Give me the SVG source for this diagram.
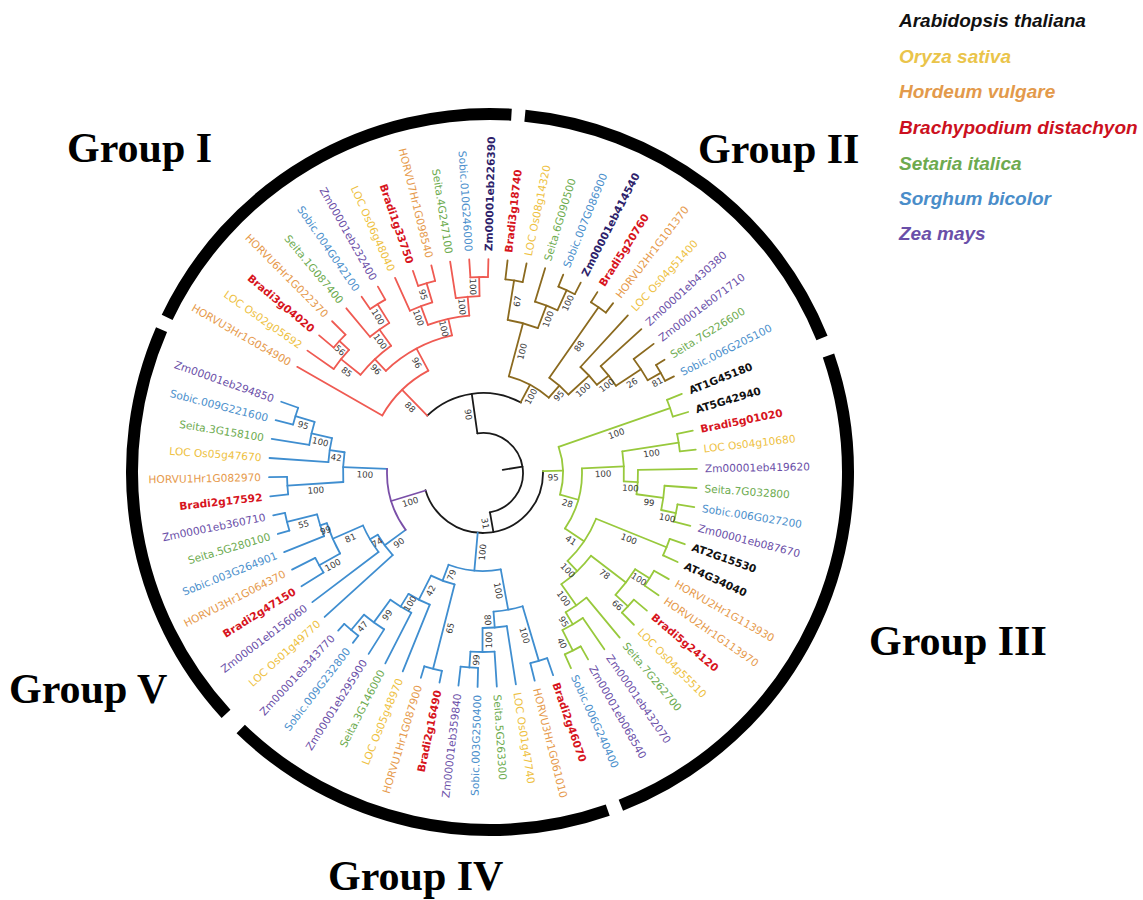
<svg xmlns="http://www.w3.org/2000/svg" width="1143" height="900" viewBox="0 0 1143 900">
<style>
.t path,.t circle{fill:none;stroke-width:1.8;stroke-linecap:round}
.k{stroke:#1a1a1a}.r{stroke:#EF5A52}.b{stroke:#8B6A1F}.g{stroke:#98C93C}.u{stroke:#3F8ED0}.p{stroke:#7A4FA8}
.bs text{font-family:"DejaVu Sans",sans-serif;font-size:8.7px;fill:#3a3a3a;text-anchor:middle}
.lf text{font-family:"DejaVu Sans",sans-serif;font-size:10.6px}
.e{text-anchor:end}
.at{fill:#111;font-weight:bold;font-size:9.6px}
.br{fill:#D7141D;font-weight:bold;font-size:9.6px}
.os{fill:#EEC13F}.hv{fill:#E69A4C}.si{fill:#6DAB4F}.sb{fill:#4B8FCC}.zm{fill:#6B4FA8}
.zd{fill:#2E1F6B;font-weight:bold;font-size:9.6px}
.ring circle{fill:none;stroke:#000;stroke-width:12}
.grp{font-family:"Liberation Serif","Times New Roman",serif;font-weight:bold;font-size:42px;fill:#000}
.lg{font-family:"Liberation Sans",Arial,sans-serif;font-weight:bold;font-style:italic;font-size:19px}
</style>
<rect width="1143" height="900" fill="#fff"/>
<g id="ring" class="ring" transform="translate(490,472)">
<circle r="358" stroke-dasharray="423.63 9999" transform="rotate(205.6)"/>
<circle r="358" stroke-dasharray="389.89 9999" transform="rotate(275.6)"/>
<circle r="358" stroke-dasharray="546.72 9999" transform="rotate(341)"/>
<circle r="358" stroke-dasharray="395.52 9999" transform="rotate(70.8)"/>
<circle r="358" stroke-dasharray="411.76 9999" transform="rotate(137.5)"/>
</g>
<g id="connectors" class="t" transform="translate(483,473)">
<g class="k">
<path d="M20 0H40" transform="rotate(-9.03)"/>
<circle r="40" stroke-dasharray="124.31 9999" transform="rotate(-98.06)"/>
<path d="M40 0H80" transform="rotate(-98.06)"/>
<path d="M40 0H60" transform="rotate(80)"/>
<circle r="80" stroke-dasharray="100.87 9999" transform="rotate(225.82)"/>
<circle r="60" stroke-dasharray="172.56 9999" transform="rotate(-1.73)"/>
</g>
<g class="g">
<path d="M60 0H80" transform="rotate(-1.73)"/>
<circle r="80" stroke-dasharray="48.60 9999" transform="rotate(-19.13)"/>
<path d="M80 0H198" transform="rotate(-19.13)"/>
<circle r="198" stroke-dasharray="17.76 9999" transform="rotate(-21.70)"/>
<path d="M198 0H214" transform="rotate(-21.70)"/>
<path d="M198 0H214" transform="rotate(-16.56)"/>
<path d="M80 0H99" transform="rotate(15.68)"/>
<circle r="99" stroke-dasharray="63.60 9999" transform="rotate(-2.73)"/>
<path d="M99 0H141" transform="rotate(-2.73)"/>
<circle r="141" stroke-dasharray="30.07 9999" transform="rotate(-8.84)"/>
<path d="M141 0H198" transform="rotate(-8.84)"/>
<circle r="198" stroke-dasharray="17.76 9999" transform="rotate(-11.41)"/>
<path d="M198 0H214" transform="rotate(-11.41)"/>
<path d="M198 0H214" transform="rotate(-6.27)"/>
<path d="M141 0H155" transform="rotate(3.38)"/>
<circle r="155" stroke-dasharray="24.37 9999" transform="rotate(-1.13)"/>
<path d="M155 0H214" transform="rotate(-1.13)"/>
<path d="M155 0H182" transform="rotate(7.88)"/>
<circle r="182" stroke-dasharray="24.49 9999" transform="rotate(4.02)"/>
<path d="M182 0H214" transform="rotate(4.02)"/>
<path d="M182 0H197" transform="rotate(11.73)"/>
<circle r="197" stroke-dasharray="17.67 9999" transform="rotate(9.16)"/>
<path d="M197 0H214" transform="rotate(9.16)"/>
<path d="M197 0H214" transform="rotate(14.30)"/>
<path d="M99 0H122" transform="rotate(34.08)"/>
<circle r="122" stroke-dasharray="51.34 9999" transform="rotate(22.02)"/>
<path d="M122 0H198" transform="rotate(22.02)"/>
<circle r="198" stroke-dasharray="17.80 9999" transform="rotate(19.44)"/>
<path d="M198 0H214" transform="rotate(19.44)"/>
<path d="M198 0H214" transform="rotate(24.59)"/>
<path d="M122 0H136" transform="rotate(46.13)"/>
<circle r="136" stroke-dasharray="41.21 9999" transform="rotate(37.45)"/>
<path d="M136 0H180" transform="rotate(37.45)"/>
<circle r="180" stroke-dasharray="32.33 9999" transform="rotate(32.30)"/>
<path d="M180 0H197" transform="rotate(32.30)"/>
<circle r="197" stroke-dasharray="17.67 9999" transform="rotate(29.73)"/>
<path d="M197 0H214" transform="rotate(29.73)"/>
<path d="M197 0H214" transform="rotate(34.87)"/>
<path d="M180 0H197" transform="rotate(42.59)"/>
<circle r="197" stroke-dasharray="17.67 9999" transform="rotate(40.02)"/>
<path d="M197 0H214" transform="rotate(40.02)"/>
<path d="M197 0H214" transform="rotate(45.16)"/>
<path d="M136 0H162" transform="rotate(54.81)"/>
<circle r="162" stroke-dasharray="25.48 9999" transform="rotate(50.30)"/>
<path d="M162 0H214" transform="rotate(50.30)"/>
<path d="M162 0H176" transform="rotate(59.31)"/>
<circle r="176" stroke-dasharray="23.68 9999" transform="rotate(55.45)"/>
<path d="M176 0H214" transform="rotate(55.45)"/>
<path d="M176 0H199" transform="rotate(63.16)"/>
<circle r="199" stroke-dasharray="17.85 9999" transform="rotate(60.59)"/>
<path d="M199 0H214" transform="rotate(60.59)"/>
<path d="M199 0H214" transform="rotate(65.73)"/>
</g>
<g class="u">
<path d="M60 0H98" transform="rotate(95.07)"/>
<circle r="98" stroke-dasharray="53.06 9999" transform="rotate(79.56)"/>
<path d="M98 0H139" transform="rotate(79.56)"/>
<circle r="139" stroke-dasharray="29.62 9999" transform="rotate(73.45)"/>
<path d="M139 0H196" transform="rotate(73.45)"/>
<circle r="196" stroke-dasharray="17.62 9999" transform="rotate(70.87)"/>
<path d="M196 0H214" transform="rotate(70.87)"/>
<path d="M196 0H214" transform="rotate(76.02)"/>
<path d="M139 0H155" transform="rotate(85.66)"/>
<circle r="155" stroke-dasharray="24.35 9999" transform="rotate(81.16)"/>
<path d="M155 0H214" transform="rotate(81.16)"/>
<path d="M155 0H179" transform="rotate(90.16)"/>
<circle r="179" stroke-dasharray="24.12 9999" transform="rotate(86.30)"/>
<path d="M179 0H214" transform="rotate(86.30)"/>
<path d="M179 0H195" transform="rotate(94.02)"/>
<circle r="195" stroke-dasharray="17.49 9999" transform="rotate(91.45)"/>
<path d="M195 0H214" transform="rotate(91.45)"/>
<path d="M195 0H214" transform="rotate(96.59)"/>
<path d="M98 0H115" transform="rotate(110.58)"/>
<circle r="115" stroke-dasharray="25.15 9999" transform="rotate(104.31)"/>
<path d="M115 0H202" transform="rotate(104.31)"/>
<circle r="202" stroke-dasharray="18.16 9999" transform="rotate(101.73)"/>
<path d="M202 0H214" transform="rotate(101.73)"/>
<path d="M202 0H214" transform="rotate(106.88)"/>
<path d="M115 0H142" transform="rotate(116.84)"/>
<circle r="142" stroke-dasharray="23.89 9999" transform="rotate(112.02)"/>
<path d="M142 0H214" transform="rotate(112.02)"/>
<path d="M142 0H157" transform="rotate(121.66)"/>
<circle r="157" stroke-dasharray="24.66 9999" transform="rotate(117.16)"/>
<path d="M157 0H214" transform="rotate(117.16)"/>
<path d="M157 0H185" transform="rotate(126.16)"/>
<circle r="185" stroke-dasharray="24.93 9999" transform="rotate(122.30)"/>
<path d="M185 0H214" transform="rotate(122.30)"/>
<path d="M185 0H205" transform="rotate(130.02)"/>
<circle r="205" stroke-dasharray="18.39 9999" transform="rotate(127.45)"/>
<path d="M205 0H214" transform="rotate(127.45)"/>
<path d="M205 0H214" transform="rotate(132.59)"/>
<path d="M96 0H122" transform="rotate(143.68)"/>
<circle r="122" stroke-dasharray="25.34 9999" transform="rotate(137.73)"/>
<path d="M122 0H214" transform="rotate(137.73)"/>
<path d="M122 0H131" transform="rotate(149.63)"/>
<circle r="131" stroke-dasharray="30.87 9999" transform="rotate(142.88)"/>
<path d="M131 0H214" transform="rotate(142.88)"/>
<path d="M131 0H164" transform="rotate(156.38)"/>
<circle r="164" stroke-dasharray="33.15 9999" transform="rotate(150.59)"/>
<path d="M164 0H188" transform="rotate(150.59)"/>
<circle r="188" stroke-dasharray="16.87 9999" transform="rotate(148.02)"/>
<path d="M188 0H214" transform="rotate(148.02)"/>
<path d="M188 0H214" transform="rotate(153.16)"/>
<path d="M164 0H171" transform="rotate(162.17)"/>
<circle r="171" stroke-dasharray="23.01 9999" transform="rotate(158.31)"/>
<path d="M171 0H214" transform="rotate(158.31)"/>
<path d="M171 0H202" transform="rotate(166.02)"/>
<circle r="202" stroke-dasharray="18.12 9999" transform="rotate(163.45)"/>
<path d="M202 0H214" transform="rotate(163.45)"/>
<path d="M202 0H214" transform="rotate(168.59)"/>
<path d="M96 0H140" transform="rotate(182.42)"/>
<circle r="140" stroke-dasharray="29.83 9999" transform="rotate(176.31)"/>
<path d="M140 0H196" transform="rotate(176.31)"/>
<circle r="196" stroke-dasharray="17.62 9999" transform="rotate(173.73)"/>
<path d="M196 0H214" transform="rotate(173.73)"/>
<path d="M196 0H214" transform="rotate(178.88)"/>
<path d="M140 0H155" transform="rotate(188.52)"/>
<circle r="155" stroke-dasharray="24.35 9999" transform="rotate(184.02)"/>
<path d="M155 0H214" transform="rotate(184.02)"/>
<path d="M155 0H176" transform="rotate(193.02)"/>
<circle r="176" stroke-dasharray="23.71 9999" transform="rotate(189.16)"/>
<path d="M176 0H214" transform="rotate(189.16)"/>
<path d="M176 0H196" transform="rotate(196.88)"/>
<circle r="196" stroke-dasharray="17.58 9999" transform="rotate(194.31)"/>
<path d="M196 0H214" transform="rotate(194.31)"/>
<path d="M196 0H214" transform="rotate(199.45)"/>
</g>
<g class="p">
<path d="M60 0H96" transform="rotate(163.05)"/>
<circle r="96" stroke-dasharray="64.91 9999" transform="rotate(143.68)"/>
</g>
<g class="r">
<path d="M80 0H116" transform="rotate(225.82)"/>
<circle r="116" stroke-dasharray="65.09 9999" transform="rotate(209.74)"/>
<path d="M116 0H214" transform="rotate(209.74)"/>
<path d="M116 0H141" transform="rotate(241.89)"/>
<circle r="141" stroke-dasharray="75.94 9999" transform="rotate(226.46)"/>
<path d="M141 0H157" transform="rotate(226.46)"/>
<circle r="157" stroke-dasharray="42.28 9999" transform="rotate(218.74)"/>
<path d="M157 0H182" transform="rotate(218.74)"/>
<circle r="182" stroke-dasharray="24.49 9999" transform="rotate(214.88)"/>
<path d="M182 0H214" transform="rotate(214.88)"/>
<path d="M182 0H195" transform="rotate(222.59)"/>
<circle r="195" stroke-dasharray="17.49 9999" transform="rotate(220.02)"/>
<path d="M195 0H214" transform="rotate(220.02)"/>
<path d="M195 0H214" transform="rotate(225.16)"/>
<path d="M157 0H177" transform="rotate(234.17)"/>
<circle r="177" stroke-dasharray="23.82 9999" transform="rotate(230.31)"/>
<path d="M177 0H214" transform="rotate(230.31)"/>
<path d="M177 0H199" transform="rotate(238.02)"/>
<circle r="199" stroke-dasharray="17.85 9999" transform="rotate(235.45)"/>
<path d="M199 0H214" transform="rotate(235.45)"/>
<path d="M199 0H214" transform="rotate(240.59)"/>
<path d="M141 0H158" transform="rotate(257.32)"/>
<circle r="158" stroke-dasharray="42.55 9999" transform="rotate(249.60)"/>
<path d="M158 0H178" transform="rotate(249.60)"/>
<circle r="178" stroke-dasharray="23.95 9999" transform="rotate(245.74)"/>
<path d="M178 0H214" transform="rotate(245.74)"/>
<path d="M178 0H198" transform="rotate(253.45)"/>
<circle r="198" stroke-dasharray="17.76 9999" transform="rotate(250.88)"/>
<path d="M198 0H214" transform="rotate(250.88)"/>
<path d="M198 0H214" transform="rotate(256.02)"/>
<path d="M158 0H177" transform="rotate(265.03)"/>
<circle r="177" stroke-dasharray="23.82 9999" transform="rotate(261.17)"/>
<path d="M177 0H214" transform="rotate(261.17)"/>
<path d="M177 0H196" transform="rotate(268.88)"/>
<circle r="196" stroke-dasharray="17.58 9999" transform="rotate(266.31)"/>
<path d="M196 0H214" transform="rotate(266.31)"/>
<path d="M196 0H214" transform="rotate(271.45)"/>
</g>
<g class="b">
<path d="M80 0H100" transform="rotate(298.06)"/>
<circle r="100" stroke-dasharray="45.71 9999" transform="rotate(284.96)"/>
<path d="M100 0H155" transform="rotate(284.96)"/>
<circle r="155" stroke-dasharray="31.30 9999" transform="rotate(279.17)"/>
<path d="M155 0H195" transform="rotate(279.17)"/>
<circle r="195" stroke-dasharray="17.53 9999" transform="rotate(276.59)"/>
<path d="M195 0H214" transform="rotate(276.59)"/>
<path d="M195 0H214" transform="rotate(281.74)"/>
<path d="M155 0H179" transform="rotate(290.74)"/>
<circle r="179" stroke-dasharray="24.12 9999" transform="rotate(286.88)"/>
<path d="M179 0H214" transform="rotate(286.88)"/>
<path d="M179 0H201" transform="rotate(294.60)"/>
<circle r="201" stroke-dasharray="18.07 9999" transform="rotate(292.02)"/>
<path d="M201 0H214" transform="rotate(292.02)"/>
<path d="M201 0H214" transform="rotate(297.17)"/>
<path d="M100 0H116" transform="rotate(311.15)"/>
<circle r="116" stroke-dasharray="25.39 9999" transform="rotate(304.88)"/>
<path d="M116 0H202" transform="rotate(304.88)"/>
<circle r="202" stroke-dasharray="18.12 9999" transform="rotate(302.31)"/>
<path d="M202 0H214" transform="rotate(302.31)"/>
<path d="M202 0H214" transform="rotate(307.45)"/>
<path d="M116 0H144" transform="rotate(317.42)"/>
<circle r="144" stroke-dasharray="24.23 9999" transform="rotate(312.60)"/>
<path d="M144 0H214" transform="rotate(312.60)"/>
<path d="M144 0H159" transform="rotate(322.24)"/>
<circle r="159" stroke-dasharray="24.98 9999" transform="rotate(317.74)"/>
<path d="M159 0H214" transform="rotate(317.74)"/>
<path d="M159 0H189" transform="rotate(326.74)"/>
<circle r="189" stroke-dasharray="25.47 9999" transform="rotate(322.88)"/>
<path d="M189 0H214" transform="rotate(322.88)"/>
<path d="M189 0H204" transform="rotate(330.60)"/>
<circle r="204" stroke-dasharray="18.30 9999" transform="rotate(328.03)"/>
<path d="M204 0H214" transform="rotate(328.03)"/>
<path d="M204 0H214" transform="rotate(333.17)"/>
</g>
</g>
<g id="bootstrap" class="bs" transform="translate(483,473)">
<text transform="rotate(81.94)" x="-60" y="9.5">90</text>
<text transform="rotate(80)" x="50" y="9.5">31</text>
<text transform="rotate(-1.73)" x="70" y="9.5">95</text>
<text transform="rotate(-19.13)" x="139" y="9.5">100</text>
<text transform="rotate(15.68)" x="89.5" y="9.5">28</text>
<text transform="rotate(-2.73)" x="120" y="9.5">100</text>
<text transform="rotate(-8.84)" x="169.5" y="9.5">100</text>
<text transform="rotate(3.38)" x="148" y="9.5">100</text>
<text transform="rotate(7.88)" x="168.5" y="9.5">99</text>
<text transform="rotate(11.73)" x="189.5" y="9.5">100</text>
<text transform="rotate(34.08)" x="110.5" y="9.5">41</text>
<text transform="rotate(22.02)" x="160" y="9.5">100</text>
<text transform="rotate(46.13)" x="129" y="9.5">100</text>
<text transform="rotate(37.45)" x="158" y="9.5">78</text>
<text transform="rotate(32.30)" x="188.5" y="9.5">100</text>
<text transform="rotate(42.59)" x="188.5" y="9.5">66</text>
<text transform="rotate(54.81)" x="149" y="9.5">100</text>
<text transform="rotate(59.31)" x="169" y="9.5">95</text>
<text transform="rotate(63.16)" x="187.5" y="9.5">40</text>
<text transform="rotate(275.07)" x="-79" y="9.5">100</text>
<text transform="rotate(79.56)" x="118.5" y="9.5">100</text>
<text transform="rotate(73.45)" x="167.5" y="9.5">100</text>
<text transform="rotate(85.66)" x="147" y="9.5">80</text>
<text transform="rotate(270.16)" x="-167" y="9.5">100</text>
<text transform="rotate(274.02)" x="-187" y="9.5">99</text>
<text transform="rotate(290.58)" x="-106.5" y="9.5">79</text>
<text transform="rotate(284.31)" x="-158.5" y="9.5">65</text>
<text transform="rotate(296.84)" x="-128.5" y="9.5">42</text>
<text transform="rotate(301.66)" x="-149.5" y="9.5">100</text>
<text transform="rotate(306.16)" x="-171" y="9.5">99</text>
<text transform="rotate(310.02)" x="-195" y="9.5">47</text>
<text transform="rotate(343.05)" x="-78" y="9.5">100</text>
<text transform="rotate(323.68)" x="-109" y="9.5">90</text>
<text transform="rotate(329.63)" x="-126.5" y="9.5">74</text>
<text transform="rotate(336.38)" x="-147.5" y="9.5">81</text>
<text transform="rotate(330.59)" x="-176" y="9.5">100</text>
<text transform="rotate(342.17)" x="-167.5" y="9.5">99</text>
<text transform="rotate(346.02)" x="-186.5" y="9.5">55</text>
<text transform="rotate(2.42)" x="-118" y="9.5">100</text>
<text transform="rotate(356.31)" x="-168" y="9.5">100</text>
<text transform="rotate(8.52)" x="-147.5" y="9.5">42</text>
<text transform="rotate(13.02)" x="-165.5" y="9.5">100</text>
<text transform="rotate(16.88)" x="-186" y="9.5">95</text>
<text transform="rotate(45.82)" x="-98" y="9.5">88</text>
<text transform="rotate(61.89)" x="-128.5" y="9.5">96</text>
<text transform="rotate(46.46)" x="-149" y="9.5">96</text>
<text transform="rotate(38.74)" x="-169.5" y="9.5">85</text>
<text transform="rotate(42.59)" x="-188.5" y="9.5">56</text>
<text transform="rotate(54.17)" x="-167" y="9.5">100</text>
<text transform="rotate(58.02)" x="-188" y="9.5">100</text>
<text transform="rotate(77.32)" x="-149.5" y="9.5">100</text>
<text transform="rotate(69.60)" x="-168" y="9.5">100</text>
<text transform="rotate(73.45)" x="-188" y="9.5">95</text>
<text transform="rotate(85.03)" x="-167.5" y="9.5">100</text>
<text transform="rotate(88.88)" x="-186.5" y="9.5">100</text>
<text transform="rotate(298.06)" x="90" y="9.5">100</text>
<text transform="rotate(284.96)" x="127.5" y="9.5">100</text>
<text transform="rotate(279.17)" x="175" y="9.5">67</text>
<text transform="rotate(290.74)" x="167" y="9.5">100</text>
<text transform="rotate(294.60)" x="190" y="9.5">100</text>
<text transform="rotate(311.15)" x="108" y="9.5">95</text>
<text transform="rotate(304.88)" x="159" y="9.5">88</text>
<text transform="rotate(317.42)" x="130" y="9.5">100</text>
<text transform="rotate(322.24)" x="151.5" y="9.5">100</text>
<text transform="rotate(326.74)" x="174" y="9.5">26</text>
<text transform="rotate(330.60)" x="196.5" y="9.5">81</text>
</g>
<g id="leaves" class="lf" transform="translate(483,473)">
<text id="AT1G45180" class="at" transform="rotate(-21.70)" x="222" dy=".35em">AT1G45180</text>
<text id="AT5G42940" class="at" transform="rotate(-16.56)" x="222" dy=".35em">AT5G42940</text>
<text id="Bradi5g01020" class="br" transform="rotate(-11.41)" x="222" dy=".35em">Bradi5g01020</text>
<text id="LOC_Os04g10680" class="os" transform="rotate(-6.27)" x="222" dy=".35em">LOC Os04g10680</text>
<text id="Zm00001eb419620" class="zm" transform="rotate(-1.13)" x="222" dy=".35em">Zm00001eb419620</text>
<text id="Seita.7G032800" class="si" transform="rotate(4.02)" x="222" dy=".35em">Seita.7G032800</text>
<text id="Sobic.006G027200" class="sb" transform="rotate(9.16)" x="222" dy=".35em">Sobic.006G027200</text>
<text id="Zm00001eb087670" class="zm" transform="rotate(14.30)" x="222" dy=".35em">Zm00001eb087670</text>
<text id="AT2G15530" class="at" transform="rotate(19.44)" x="222" dy=".35em">AT2G15530</text>
<text id="AT4G34040" class="at" transform="rotate(24.59)" x="222" dy=".35em">AT4G34040</text>
<text id="HORVU2Hr1G113930" class="hv" transform="rotate(29.73)" x="222" dy=".35em">HORVU2Hr1G113930</text>
<text id="HORVU2Hr1G113970" class="hv" transform="rotate(34.87)" x="222" dy=".35em">HORVU2Hr1G113970</text>
<text id="Bradi5g24120" class="br" transform="rotate(40.02)" x="222" dy=".35em">Bradi5g24120</text>
<text id="LOC_Os04g55510" class="os" transform="rotate(45.16)" x="222" dy=".35em">LOC Os04g55510</text>
<text id="Seita.7G262700" class="si" transform="rotate(50.30)" x="222" dy=".35em">Seita.7G262700</text>
<text id="Zm00001eb432070" class="zm" transform="rotate(55.45)" x="222" dy=".35em">Zm00001eb432070</text>
<text id="Zm00001eb068540" class="zm" transform="rotate(60.59)" x="222" dy=".35em">Zm00001eb068540</text>
<text id="Sobic.006G240400" class="sb" transform="rotate(65.73)" x="222" dy=".35em">Sobic.006G240400</text>
<text id="Bradi2g46070" class="br" transform="rotate(70.87)" x="222" dy=".35em">Bradi2g46070</text>
<text id="HORVU3Hr1G061010" class="hv" transform="rotate(76.02)" x="222" dy=".35em">HORVU3Hr1G061010</text>
<text id="LOC_Os01g47740" class="os" transform="rotate(81.16)" x="222" dy=".35em">LOC Os01g47740</text>
<text id="Seita.5G263300" class="si" transform="rotate(86.30)" x="222" dy=".35em">Seita.5G263300</text>
<text id="Sobic.003G250400" class="sb e" transform="rotate(271.45)" x="-222" dy=".35em">Sobic.003G250400</text>
<text id="Zm00001eb359840" class="zm e" transform="rotate(276.59)" x="-222" dy=".35em">Zm00001eb359840</text>
<text id="Bradi2g16490" class="br e" transform="rotate(281.73)" x="-222" dy=".35em">Bradi2g16490</text>
<text id="HORVU1Hr1G087900" class="hv e" transform="rotate(286.88)" x="-222" dy=".35em">HORVU1Hr1G087900</text>
<text id="LOC_Os05g48970" class="os e" transform="rotate(292.02)" x="-222" dy=".35em">LOC Os05g48970</text>
<text id="Seita.3G146000" class="si e" transform="rotate(297.16)" x="-222" dy=".35em">Seita.3G146000</text>
<text id="Zm00001eb295900" class="zm e" transform="rotate(302.30)" x="-222" dy=".35em">Zm00001eb295900</text>
<text id="Sobic.009G232800" class="sb e" transform="rotate(307.45)" x="-222" dy=".35em">Sobic.009G232800</text>
<text id="Zm00001eb343770" class="zm e" transform="rotate(312.59)" x="-222" dy=".35em">Zm00001eb343770</text>
<text id="LOC_Os01g49770" class="os e" transform="rotate(317.73)" x="-222" dy=".35em">LOC Os01g49770</text>
<text id="Zm00001eb156060" class="zm e" transform="rotate(322.88)" x="-222" dy=".35em">Zm00001eb156060</text>
<text id="Bradi2g47150" class="br e" transform="rotate(328.02)" x="-222" dy=".35em">Bradi2g47150</text>
<text id="HORVU3Hr1G064370" class="hv e" transform="rotate(333.16)" x="-222" dy=".35em">HORVU3Hr1G064370</text>
<text id="Sobic.003G264901" class="sb e" transform="rotate(338.31)" x="-222" dy=".35em">Sobic.003G264901</text>
<text id="Seita.5G280100" class="si e" transform="rotate(343.45)" x="-222" dy=".35em">Seita.5G280100</text>
<text id="Zm00001eb360710" class="zm e" transform="rotate(348.59)" x="-222" dy=".35em">Zm00001eb360710</text>
<text id="Bradi2g17592" class="br e" transform="rotate(353.73)" x="-222" dy=".35em">Bradi2g17592</text>
<text id="HORVU1Hr1G082970" class="hv e" transform="rotate(358.88)" x="-222" dy=".35em">HORVU1Hr1G082970</text>
<text id="LOC_Os05g47670" class="os e" transform="rotate(4.02)" x="-222" dy=".35em">LOC Os05g47670</text>
<text id="Seita.3G158100" class="si e" transform="rotate(9.16)" x="-222" dy=".35em">Seita.3G158100</text>
<text id="Sobic.009G221600" class="sb e" transform="rotate(14.31)" x="-222" dy=".35em">Sobic.009G221600</text>
<text id="Zm00001eb294850" class="zm e" transform="rotate(19.45)" x="-222" dy=".35em">Zm00001eb294850</text>
<text id="HORVU3Hr1G054900" class="hv e" transform="rotate(29.74)" x="-222" dy=".35em">HORVU3Hr1G054900</text>
<text id="LOC_Os02g05692" class="os e" transform="rotate(34.88)" x="-222" dy=".35em">LOC Os02g05692</text>
<text id="Bradi3g04020" class="br e" transform="rotate(40.02)" x="-222" dy=".35em">Bradi3g04020</text>
<text id="HORVU6Hr1G022370" class="hv e" transform="rotate(45.16)" x="-222" dy=".35em">HORVU6Hr1G022370</text>
<text id="Seita.1G087400" class="si e" transform="rotate(50.31)" x="-222" dy=".35em">Seita.1G087400</text>
<text id="Sobic.004G042100" class="sb e" transform="rotate(55.45)" x="-222" dy=".35em">Sobic.004G042100</text>
<text id="Zm00001eb232400" class="zm e" transform="rotate(60.59)" x="-222" dy=".35em">Zm00001eb232400</text>
<text id="LOC_Os06g48040" class="os e" transform="rotate(65.74)" x="-222" dy=".35em">LOC Os06g48040</text>
<text id="Bradi1g33750" class="br e" transform="rotate(70.88)" x="-222" dy=".35em">Bradi1g33750</text>
<text id="HORVU7Hr1G098540" class="hv e" transform="rotate(76.02)" x="-222" dy=".35em">HORVU7Hr1G098540</text>
<text id="Seita.4G247100" class="si e" transform="rotate(81.17)" x="-222" dy=".35em">Seita.4G247100</text>
<text id="Sobic.010G246000" class="sb e" transform="rotate(86.31)" x="-222" dy=".35em">Sobic.010G246000</text>
<text id="Zm00001eb226390" class="zd" transform="rotate(271.45)" x="222" dy=".35em">Zm00001eb226390</text>
<text id="Bradi3g18740" class="br" transform="rotate(276.59)" x="222" dy=".35em">Bradi3g18740</text>
<text id="LOC_Os08g14320" class="os" transform="rotate(281.74)" x="222" dy=".35em">LOC Os08g14320</text>
<text id="Seita.6G090500" class="si" transform="rotate(286.88)" x="222" dy=".35em">Seita.6G090500</text>
<text id="Sobic.007G086900" class="sb" transform="rotate(292.02)" x="222" dy=".35em">Sobic.007G086900</text>
<text id="Zm00001eb414540" class="zd" transform="rotate(297.17)" x="222" dy=".35em">Zm00001eb414540</text>
<text id="Bradi5g20760" class="br" transform="rotate(302.31)" x="222" dy=".35em">Bradi5g20760</text>
<text id="HORVU2Hr1G101370" class="hv" transform="rotate(307.45)" x="222" dy=".35em">HORVU2Hr1G101370</text>
<text id="LOC_Os04g51400" class="os" transform="rotate(312.60)" x="222" dy=".35em">LOC Os04g51400</text>
<text id="Zm00001eb430380" class="zm" transform="rotate(317.74)" x="222" dy=".35em">Zm00001eb430380</text>
<text id="Zm00001eb071710" class="zm" transform="rotate(322.88)" x="222" dy=".35em">Zm00001eb071710</text>
<text id="Seita.7G226600" class="si" transform="rotate(328.03)" x="222" dy=".35em">Seita.7G226600</text>
<text id="Sobic.006G205100" class="sb" transform="rotate(333.17)" x="222" dy=".35em">Sobic.006G205100</text>
</g>
<g id="group-titles" class="grp">
<text id="group-I" x="67" y="162">Group I</text>
<text id="group-II" x="698" y="163">Group II</text>
<text id="group-III" x="869" y="655">Group III</text>
<text id="group-IV" x="328" y="890">Group IV</text>
<text id="group-V" x="9" y="703">Group V</text>
</g>
<g id="legend" class="lg">
<text x="899" y="27" fill="#111">Arabidopsis thaliana</text>
<text x="899" y="62.5" fill="#EAC44A">Oryza sativa</text>
<text x="899" y="98" fill="#E39A4B">Hordeum vulgare</text>
<text x="899" y="134" fill="#CC1020">Brachypodium distachyon</text>
<text x="899" y="170" fill="#6DAA4F">Setaria italica</text>
<text x="899" y="205" fill="#4A8DC9">Sorghum bicolor</text>
<text x="899" y="240" fill="#6A4FA9">Zea mays</text>
</g>
</svg>
